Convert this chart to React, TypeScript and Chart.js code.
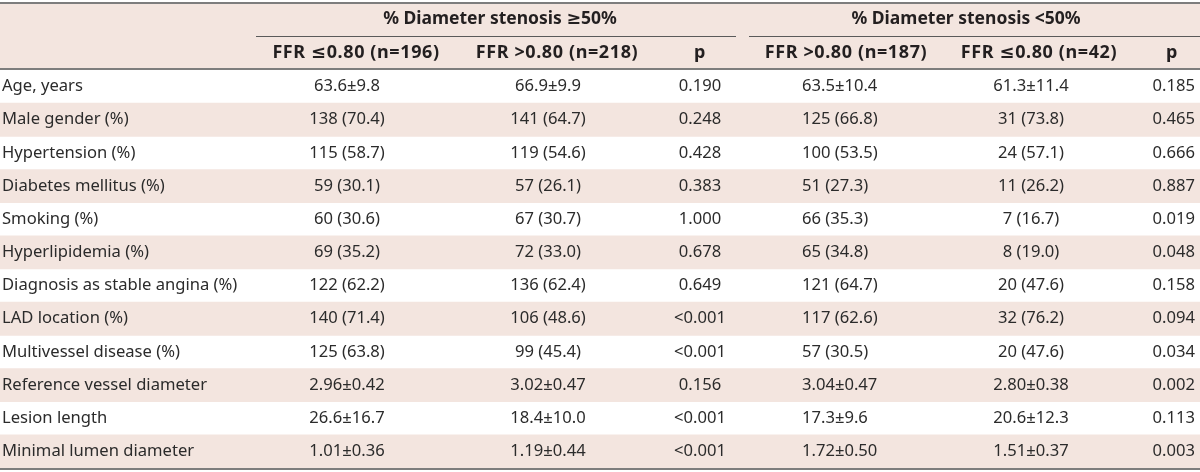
import React, { useEffect, useRef } from "react";
import { Chart, registerables } from "chart.js";

Chart.register(...registerables);

const groupHeaders = ["% Diameter stenosis ≥50%", "% Diameter stenosis <50%"];
const columnHeaders = [
  "FFR ≤0.80 (n=196)",
  "FFR >0.80 (n=218)",
  "p",
  "FFR >0.80 (n=187)",
  "FFR ≤0.80 (n=42)",
  "p",
];
const rowLabels = [
  "Age, years",
  "Male gender (%)",
  "Hypertension (%)",
  "Diabetes mellitus (%)",
  "Smoking (%)",
  "Hyperlipidemia (%)",
  "Diagnosis as stable angina (%)",
  "LAD location (%)",
  "Multivessel disease (%)",
  "Reference vessel diameter",
  "Lesion length",
  "Minimal lumen diameter",
];
const ge50FfrLow = ["63.6±9.8", "138 (70.4)", "115 (58.7)", "59 (30.1)", "60 (30.6)", "69 (35.2)", "122 (62.2)", "140 (71.4)", "125 (63.8)", "2.96±0.42", "26.6±16.7", "1.01±0.36"];
const ge50FfrHigh = ["66.9±9.9", "141 (64.7)", "119 (54.6)", "57 (26.1)", "67 (30.7)", "72 (33.0)", "136 (62.4)", "106 (48.6)", "99 (45.4)", "3.02±0.47", "18.4±10.0", "1.19±0.44"];
const ge50P = ["0.190", "0.248", "0.428", "0.383", "1.000", "0.678", "0.649", "<0.001", "<0.001", "0.156", "<0.001", "<0.001"];
const lt50FfrHigh = ["63.5±10.4", "125 (66.8)", "100 (53.5)", "51 (27.3)", "66 (35.3)", "65 (34.8)", "121 (64.7)", "117 (62.6)", "57 (30.5)", "3.04±0.47", "17.3±9.6", "1.72±0.50"];
const lt50FfrLow = ["61.3±11.4", "31 (73.8)", "24 (57.1)", "11 (26.2)", "7 (16.7)", "8 (19.0)", "20 (47.6)", "32 (76.2)", "20 (47.6)", "2.80±0.38", "20.6±12.3", "1.51±0.37"];
const lt50P = ["0.185", "0.465", "0.666", "0.887", "0.019", "0.048", "0.158", "0.094", "0.034", "0.002", "0.113", "0.003"];

// layout (x positions on the 0..1200 x scale)
const WIDTH = 1200;
const HEIGHT = 472;
const dataCols = [
  { values: ge50FfrLow, x: 347, align: "center" as CanvasTextAlign, hx: 356 },
  { values: ge50FfrHigh, x: 548, align: "center" as CanvasTextAlign, hx: 557 },
  { values: ge50P, x: 700, align: "center" as CanvasTextAlign, hx: 700 },
  { values: lt50FfrHigh, x: 802, align: "left" as CanvasTextAlign, hx: 846 },
  { values: lt50FfrLow, x: 1031, align: "center" as CanvasTextAlign, hx: 1039 },
  { values: lt50P, x: 1195, align: "right" as CanvasTextAlign, hx: 1172 },
];
const groupSpans = [
  { x0: 256, x1: 736, tx: 500 },
  { x0: 749, x1: 1200, tx: 966 },
];

const FONT = '"Noto Sans", "DejaVu Sans", sans-serif';
const STRIPE = "#f3e5df";
const TEXT = "#231f20";
const BODY_TEXT = "#2b2b2b";
const LINE = "#7d7d7d";

const tablePlugin = {
  id: "tablePlugin",
  beforeDatasetsDraw(chart: any) {
    const ctx = chart.ctx;
    const xs = chart.scales.x;
    ctx.save();
    ctx.fillStyle = STRIPE;
    ctx.fillRect(xs.getPixelForValue(0), 3, xs.getPixelForValue(WIDTH) - xs.getPixelForValue(0), chart.chartArea.top - 3);
    ctx.restore();
  },
  afterDatasetsDraw(chart: any) {
    const ctx = chart.ctx;
    const xs = chart.scales.x;
    const ys = chart.scales.y;
    const area = chart.chartArea;
    ctx.save();
    // lines
    ctx.strokeStyle = LINE;
    ctx.lineWidth = 2;
    ctx.beginPath();
    ctx.moveTo(0, 3);
    ctx.lineTo(WIDTH, 3);
    ctx.moveTo(0, area.top - 1);
    ctx.lineTo(WIDTH, area.top - 1);
    ctx.moveTo(0, area.bottom + 1);
    ctx.lineTo(WIDTH, area.bottom + 1);
    ctx.stroke();
    ctx.strokeStyle = "#5a5a5a";
    ctx.lineWidth = 1;
    ctx.beginPath();
    groupSpans.forEach((g) => {
      ctx.moveTo(xs.getPixelForValue(g.x0), 36.5);
      ctx.lineTo(xs.getPixelForValue(g.x1), 36.5);
    });
    ctx.stroke();

    // headers
    ctx.fillStyle = TEXT;
    ctx.textBaseline = "middle";
    ctx.textAlign = "center";
    ctx.font = `bold 17.5px ${FONT}`;
    groupHeaders.forEach((h, i) => {
      ctx.fillText(h, xs.getPixelForValue(groupSpans[i].tx), 19);
    });
    ctx.font = `bold 18px ${FONT}`;
    try { (ctx as any).letterSpacing = "0.6px"; } catch (e) {}
    columnHeaders.forEach((h, i) => {
      ctx.fillText(h, xs.getPixelForValue(dataCols[i].hx), 53);
    });
    try { (ctx as any).letterSpacing = "0px"; } catch (e) {}

    // body
    ctx.fillStyle = BODY_TEXT;
    ctx.font = `16.6px ${FONT}`;
    rowLabels.forEach((label, r) => {
      const y = ys.getPixelForValue(r);
      ctx.textAlign = "left";
      ctx.fillText(label, xs.getPixelForValue(2), y);
      dataCols.forEach((c) => {
        ctx.textAlign = c.align;
        ctx.fillText(c.values[r], xs.getPixelForValue(c.x), y);
      });
    });
    ctx.restore();
  },
};

export default function App() {
  const ref = useRef<HTMLCanvasElement>(null);
  useEffect(() => {
    if (!ref.current) return;
    const stripes = rowLabels.map((_, i) => (i % 2 === 1 ? [0, WIDTH] : null));
    const chart = new Chart(ref.current, {
      type: "bar",
      data: {
        labels: rowLabels,
        datasets: [
          {
            label: "rows",
            data: stripes as any,
            backgroundColor: STRIPE,
            borderWidth: 0,
            barPercentage: 1,
            categoryPercentage: 1,
          },
        ],
      },
      options: {
        indexAxis: "y",
        responsive: false,
        animation: false,
        devicePixelRatio: 1,
        layout: { padding: { top: 70, bottom: 4, left: 0, right: 0 } },
        plugins: { legend: { display: false }, tooltip: { enabled: false } },
        scales: {
          x: { type: "linear", min: 0, max: WIDTH, display: false },
          y: { type: "category", display: false, offset: true },
        },
      },
      plugins: [tablePlugin],
    });
    return () => chart.destroy();
  }, []);
  return (
    <div style={{ position: "absolute", left: 0, top: 0, width: WIDTH, height: HEIGHT, background: "#fff" }}>
      <canvas ref={ref} width={WIDTH} height={HEIGHT} style={{ display: "block" }} />
    </div>
  );
}
